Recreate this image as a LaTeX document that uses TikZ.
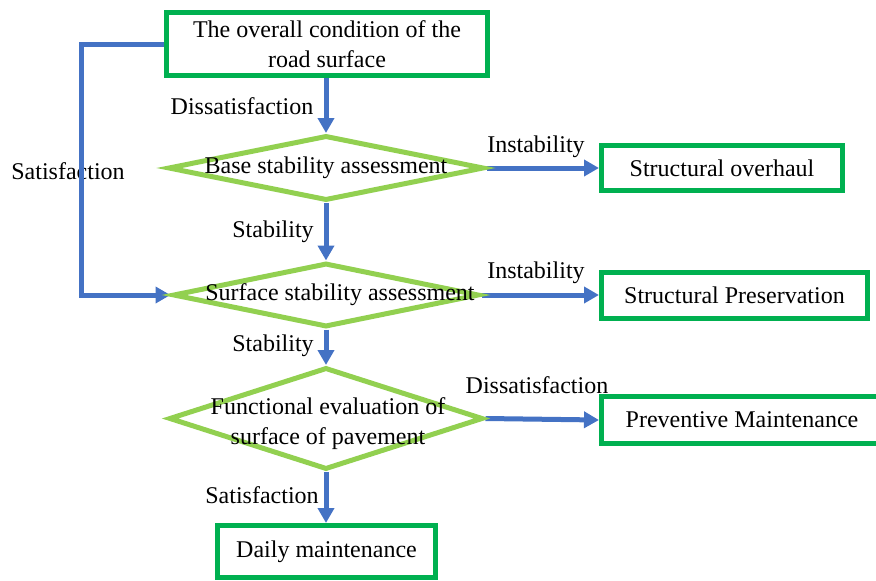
\documentclass[tikz,border=0pt]{standalone}
\usepackage{fontspec}
\setmainfont{Liberation Serif}
\usetikzlibrary{shapes.geometric,arrows.meta}
\definecolor{boxgreen}{HTML}{00B050}
\definecolor{diagreen}{HTML}{92D050}
\definecolor{flowblue}{HTML}{4472C4}
\pgfdeclarelayer{bg}
\pgfsetlayers{bg,main}
\begin{document}
\begin{tikzpicture}[x=1pt,y=-1pt,
  every node/.style={font=\fontsize{24}{30}\selectfont, text=black},
  actbox/.style={draw=boxgreen, line width=5pt, rectangle, inner sep=0pt, align=center},
  decision/.style={draw=diagreen, line width=5pt, diamond, inner sep=0pt, line join=miter},
  flow/.style={draw=flowblue, line width=5pt, -{Triangle[length=15pt,width=16pt]}},
  tag/.style={inner sep=0pt}]
\useasboundingbox (0,0) rectangle (876,581);

% action boxes
\node[actbox, minimum width=321pt, minimum height=63pt] (top) at (327,44)
  {The overall condition of the\\road surface};
\node[actbox, minimum width=241pt, minimum height=45pt] (so) at (722,168) {Structural overhaul};
\node[actbox, minimum width=266pt, minimum height=46pt] (sp) at (734.5,295) {Structural Preservation};
\node[actbox, minimum width=281pt, minimum height=47pt] (pm) at (742,420) {Preventive Maintenance};
\node[actbox, minimum width=218pt, minimum height=52pt] (dm) at (326.5,551.5) {Daily maintenance};

% decisions
\node[decision, minimum width=316pt, minimum height=65pt,
  label={[tag]center:Base stability assessment}] (d1) at (326,168) {};
\node[decision, minimum width=306pt, minimum height=64pt,
  label={[tag,xshift=14pt]center:Surface stability assessment}] (d2) at (326,295) {};
\node[decision, minimum width=314pt, minimum height=102pt,
  label={[tag,align=center,yshift=-5pt,xshift=2pt]center:Functional evaluation of\\surface of pavement}] (d3) at (326,418.5) {};

\coordinate (bend) at (81,44);

% connectors
\begin{pgfonlayer}{bg}
\draw[flow] (top.south -| d1.north) -- (d1.north);
\draw[flow] (d1.south) -- (d2.north);
\draw[flow] (d2.south) -- (d3.north);
\draw[flow] (d3.south) -- (dm.north -| d3.south);
\draw[flow] (d1.east) -- (so.west);
\draw[flow] (d2.east) -- (sp.west);
\draw[flow] (d3.east) -- (pm.west);
\draw[flow] (top.west) -- (bend) |- (d2.west);
\end{pgfonlayer}

% connector labels
\node[tag] (l1) at (242,106) {Dissatisfaction};
\node[tag] (l2) at (68,171) {Satisfaction};
\node[tag] (l3) at (536,147) {Instability};
\node[tag] (l4) at (273,232) {Stability};
\node[tag] (l5) at (536,273) {Instability};
\node[tag] (l6) at (273,346) {Stability};
\node[tag] (l7) at (537,385) {Dissatisfaction};
\node[tag] (l8) at (262,495) {Satisfaction};

% the satisfaction return line runs over its own label
\draw[draw=flowblue, line width=5pt] (bend) -- (bend |- l2.south);
\end{tikzpicture}
\end{document}
